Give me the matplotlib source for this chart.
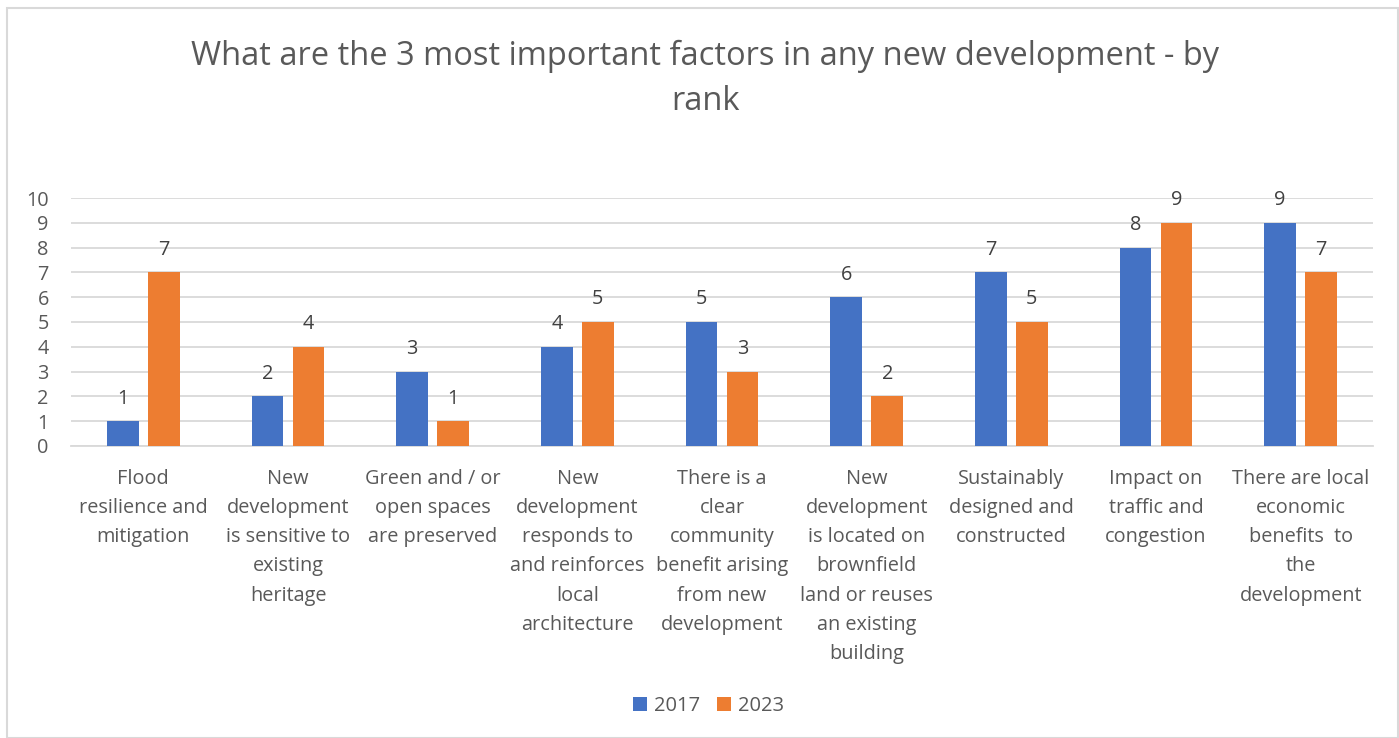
import matplotlib
matplotlib.use("Agg")
import matplotlib.pyplot as plt
import numpy as np
from matplotlib.patches import Rectangle

categories = [
    "Flood\nresilience and\nmitigation",
    "New\ndevelopment\nis sensitive to\nexisting\nheritage",
    "Green and / or\nopen spaces\nare preserved",
    "New\ndevelopment\nresponds to\nand reinforces\nlocal\narchitecture",
    "There is a\nclear\ncommunity\nbenefit arising\nfrom new\ndevelopment",
    "New\ndevelopment\nis located on\nbrownfield\nland or reuses\nan existing\nbuilding",
    "Sustainably\ndesigned and\nconstructed",
    "Impact on\ntraffic and\ncongestion",
    "There are local\neconomic\nbenefits  to\nthe\ndevelopment",
]
series_names = ["2017", "2023"]
values_2017 = [1, 2, 3, 4, 5, 6, 7, 8, 9]
values_2023 = [7, 4, 1, 5, 3, 2, 5, 9, 7]
y_ticks = list(range(0, 11))
title_lines = ["What are the 3 most important factors in any new development - by", "rank"]

FONT = ["Open Sans", "DejaVu Sans"]
TXT = "#595959"
colors = ["#4472C4", "#ED7D31"]

plt.rcParams["font.family"] = FONT

W, H = 1399, 738
fig = plt.figure(figsize=(W / 100, H / 100), dpi=100)

# chart border
fig.patches.append(Rectangle((7 / W, 0), (W - 8) / W, 1 - 8 / H, transform=fig.transFigure,
                             fill=False, edgecolor="#d9d9d9", linewidth=1.5))

ax = fig.add_axes([71 / W, 1 - 446 / H, (1373 - 71) / W, (446 - 198) / H])
x = np.arange(len(categories))
bw = 0.22
off = 0.142
for vals, c, o, name in [(values_2017, colors[0], -off, series_names[0]),
                         (values_2023, colors[1], off, series_names[1])]:
    ax.bar(x + o, vals, width=bw, color=c, label=name, zorder=3)
    for xi, v in zip(x + o, vals):
        ax.annotate(str(v), (xi, v), xytext=(0, 9), textcoords="offset points",
                    ha="center", va="bottom", fontsize=14.3, color="#404040")

ax.set_xlim(-0.5, len(categories) - 0.5)
ax.set_ylim(0, 10)
ax.set_yticks(y_ticks)
ax.set_yticklabels([str(t) for t in y_ticks], fontsize=14.3, color=TXT)
ax.yaxis.grid(True, color="#d9d9d9", linewidth=1.3, zorder=0)
ax.set_axisbelow(True)
for s in ["top", "right", "left"]:
    ax.spines[s].set_visible(False)
ax.spines["bottom"].set_color("#d9d9d9")
ax.spines["bottom"].set_linewidth(1.3)
ax.tick_params(axis="y", length=0, pad=16)
ax.tick_params(axis="x", length=0, pad=16.5)
ax.set_xticks(x)
ax.set_xticklabels(categories, fontsize=14.3, color=TXT, linespacing=1.61, va="top")

fig.text(0.504, 1 - 65 / H, title_lines[0], ha="center", va="baseline", fontsize=23.5, color=TXT)
fig.text(0.504, 1 - 110 / H, title_lines[1], ha="center", va="baseline", fontsize=23.5, color=TXT)

leg = fig.legend(loc="center", bbox_to_anchor=(0.5 + 9 / W, 1 - 706 / H), ncol=2, frameon=False,
                 fontsize=14.5, handlelength=0.7, handleheight=0.7, handletextpad=0.35,
                 columnspacing=0.8)
for t in leg.get_texts():
    t.set_color(TXT)

fig.savefig("out.png", dpi=100)
